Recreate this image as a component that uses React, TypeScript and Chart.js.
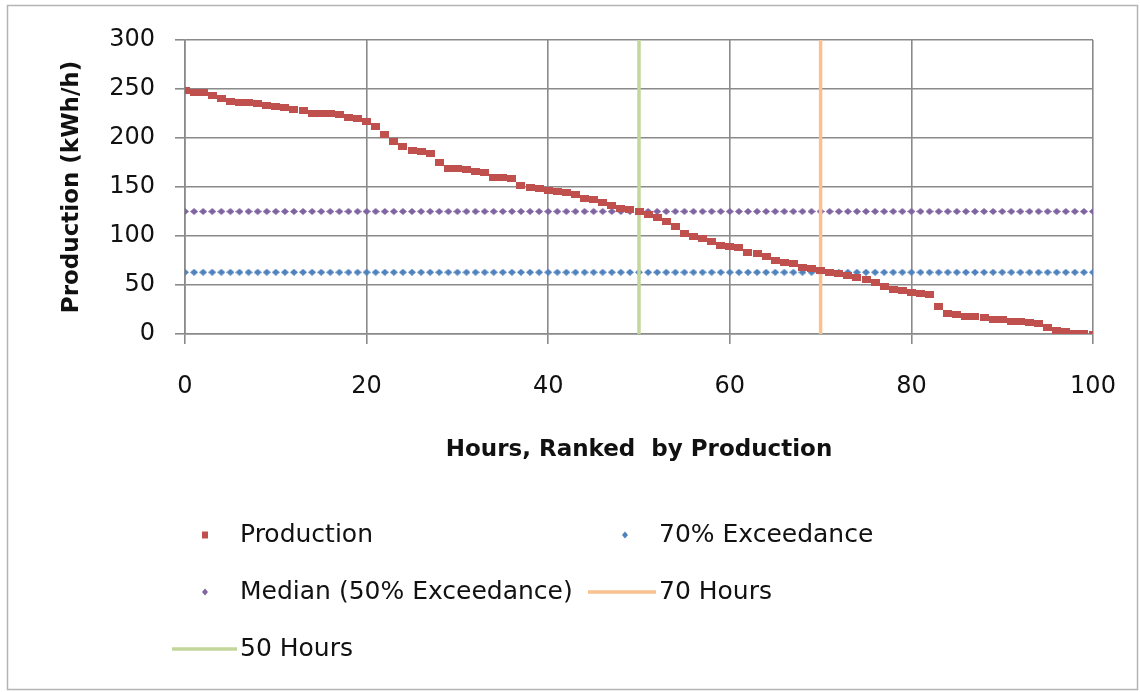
import React, { useEffect, useRef } from "react";
import { Chart, registerables } from "chart.js";

Chart.register(...registerables);

// ---- data ----
const hours: number[] = Array.from({ length: 101 }, (_, i) => i);
const production: number[] = [
  248, 246, 246, 243, 240, 237, 236, 236, 235, 233,
  232, 231, 229, 228, 225, 225, 225, 224, 221, 220,
  217, 212, 204, 196, 191, 187, 186, 184, 175, 169,
  169, 168, 166, 165, 160, 160, 159, 152, 150, 148,
  146, 145, 144, 142, 138, 137, 134, 131, 128, 127,
  125, 122, 119, 115, 110, 103, 100, 97, 94, 90,
  89, 88, 83, 82, 79, 75, 73, 72, 68, 67,
  65, 63, 62, 60, 58, 56, 53, 48, 45, 44,
  42, 41, 40, 28, 21, 20, 18, 18, 17, 15,
  15, 13, 13, 12, 11, 7, 4, 3, 1, 1,
  0,
];
const exceedance70Value = 63;
const medianValue = 125;
const hourLines: number[] = [70, 50];
const yRange: number[] = [0, 300];
const xTicks: number[] = [0, 20, 40, 60, 80, 100];
const yTicks: number[] = [0, 50, 100, 150, 200, 250, 300];

const seriesLabels: string[] = [
  "Production",
  "70% Exceedance",
  "Median (50% Exceedance)",
  "70 Hours",
  "50 Hours",
];

const FONT = '"DejaVu Sans", sans-serif';
const GRID = "#8a8a8a";

const colors = {
  production: "#c0504d",
  exc70: "#4f81bd",
  median: "#8064a2",
  h70: "#fac090",
  h50: "#c3d69b",
};

function makeRect(w: number, h: number, c: string): HTMLCanvasElement {
  const cv = document.createElement("canvas");
  cv.width = w;
  cv.height = h;
  const g = cv.getContext("2d")!;
  g.fillStyle = c;
  g.fillRect(0, 0, w, h);
  return cv;
}

function makeDiamond(w: number, h: number, c: string): HTMLCanvasElement {
  const cv = document.createElement("canvas");
  cv.width = w;
  cv.height = h;
  const g = cv.getContext("2d")!;
  g.fillStyle = c;
  g.beginPath();
  g.moveTo(w / 2, 0);
  g.lineTo(w, h / 2);
  g.lineTo(w / 2, h);
  g.lineTo(0, h / 2);
  g.closePath();
  g.fill();
  return cv;
}

const frameLegendPlugin = {
  id: "frameLegend",
  afterDraw(chart: any) {
    const ctx: CanvasRenderingContext2D = chart.ctx;
    const ds = chart.data.datasets;
    ctx.save();
    // outer frame
    ctx.strokeStyle = "#b4b4b4";
    ctx.lineWidth = 1.5;
    ctx.strokeRect(7.5, 5.5, 1130, 684);

    ctx.font = `25px ${FONT}`;
    ctx.textBaseline = "middle";
    ctx.textAlign = "left";

    const drawSquare = (x: number, y: number, c: string) => {
      ctx.fillStyle = c;
      ctx.fillRect(x - 3, y - 3.5, 6, 7);
    };
    const drawDiamond = (x: number, y: number, c: string) => {
      ctx.fillStyle = c;
      ctx.beginPath();
      ctx.moveTo(x, y - 3.5);
      ctx.lineTo(x + 3, y);
      ctx.lineTo(x, y + 3.5);
      ctx.lineTo(x - 3, y);
      ctx.closePath();
      ctx.fill();
    };
    const drawLine = (x1: number, x2: number, y: number, c: string) => {
      ctx.strokeStyle = c;
      ctx.lineWidth = 3.5;
      ctx.beginPath();
      ctx.moveTo(x1, y);
      ctx.lineTo(x2, y);
      ctx.stroke();
    };
    const text = (s: string, x: number, y: number) => {
      ctx.fillStyle = "#111";
      ctx.fillText(s, x, y);
    };

    const r1 = 535, r2 = 592, r3 = 649;
    drawSquare(205, r1, colors.production);
    text(ds[0].label, 240, r1);
    drawDiamond(625, r1, colors.exc70);
    text(ds[1].label, 659, r1);
    drawDiamond(205, r2, colors.median);
    text(ds[2].label, 240, r2);
    drawLine(588, 656, r2, ds[3].borderColor);
    text(ds[3].label, 659, r2);
    drawLine(172, 237, r3, ds[4].borderColor);
    text(ds[4].label, 240, r3);
    ctx.restore();
  },
};

export default function App() {
  const ref = useRef<HTMLCanvasElement | null>(null);

  useEffect(() => {
    if (!ref.current) return;
    const redSq = makeRect(9, 7, colors.production);
    const blueDia = makeDiamond(8, 7, colors.exc70);
    const purpleDia = makeDiamond(8, 7, colors.median);
    const chart = new Chart(ref.current, {
      type: "scatter",
      data: {
        datasets: [
          {
            label: seriesLabels[0],
            data: hours.map((h, i) => ({ x: h, y: production[i] })),
            pointStyle: redSq,
            pointRadius: 5,
            backgroundColor: colors.production,
            borderColor: colors.production,
            borderWidth: 0,
            order: 0,
          },
          {
            label: seriesLabels[1],
            data: hours.map((h) => ({ x: h, y: exceedance70Value })),
            pointStyle: blueDia,
            pointRadius: 4,
            backgroundColor: colors.exc70,
            borderColor: colors.exc70,
            borderWidth: 0,
            order: 3,
          },
          {
            label: seriesLabels[2],
            data: hours.map((h) => ({ x: h, y: medianValue })),
            pointStyle: purpleDia,
            pointRadius: 4,
            backgroundColor: colors.median,
            borderColor: colors.median,
            borderWidth: 0,
            order: 4,
          },
          {
            label: seriesLabels[3],
            data: yRange.map((y) => ({ x: hourLines[0], y })),
            showLine: true,
            pointRadius: 0,
            borderColor: colors.h70,
            backgroundColor: colors.h70,
            borderWidth: 3.5,
            order: 1,
          },
          {
            label: seriesLabels[4],
            data: yRange.map((y) => ({ x: hourLines[1], y })),
            showLine: true,
            pointRadius: 0,
            borderColor: colors.h50,
            backgroundColor: colors.h50,
            borderWidth: 3.5,
            order: 2,
          },
        ],
      },
      options: {
        animation: false,
        responsive: false,
        events: [],
        layout: { padding: { left: 0, top: 40, right: 47, bottom: 222 } },
        plugins: {
          legend: { display: false },
          tooltip: { enabled: false },
        },
        scales: {
          x: {
            type: "linear",
            min: xTicks[0],
            max: xTicks[xTicks.length - 1],
            afterFit: (s: any) => {
              s.height = 136;
              s.paddingLeft = 0;
              s.paddingRight = 0;
            },
            afterBuildTicks: (s: any) => {
              s.ticks = xTicks.map((v) => ({ value: v }));
            },
            ticks: {
              font: { family: FONT, size: 24 },
              color: "#111",
              padding: 28,
              maxRotation: 0,
            },
            grid: { color: GRID, lineWidth: 1.6, tickLength: 10, tickColor: GRID },
            border: { color: GRID, width: 1.6 },
            title: {
              display: true,
              text: "Hours, Ranked  by Production",
              font: { family: FONT, size: 23, weight: "bold" },
              color: "#111",
              padding: { top: 0, bottom: 6 },
            },
          },
          y: {
            type: "linear",
            min: yTicks[0],
            max: yTicks[yTicks.length - 1],
            afterFit: (s: any) => {
              s.width = 185;
              s.paddingTop = 0;
              s.paddingBottom = 0;
            },
            afterBuildTicks: (s: any) => {
              s.ticks = yTicks.map((v) => ({ value: v }));
            },
            ticks: {
              font: { family: FONT, size: 24 },
              color: "#111",
              padding: 20,
            },
            grid: { color: GRID, lineWidth: 1.6, tickLength: 10, tickColor: GRID },
            border: { color: GRID, width: 1.6 },
            title: {
              display: true,
              text: "Production (kWh/h)",
              font: { family: FONT, size: 23, weight: "bold" },
              color: "#111",
              padding: { top: 58, bottom: 0 },
            },
          },
        },
      },
      plugins: [frameLegendPlugin],
    } as any);
    return () => chart.destroy();
  }, []);

  return (
    <div style={{ position: "fixed", left: 0, top: 0, width: 1140, height: 692, background: "#fff" }}>
      <canvas ref={ref} width={1140} height={692} style={{ display: "block" }} />
    </div>
  );
}
